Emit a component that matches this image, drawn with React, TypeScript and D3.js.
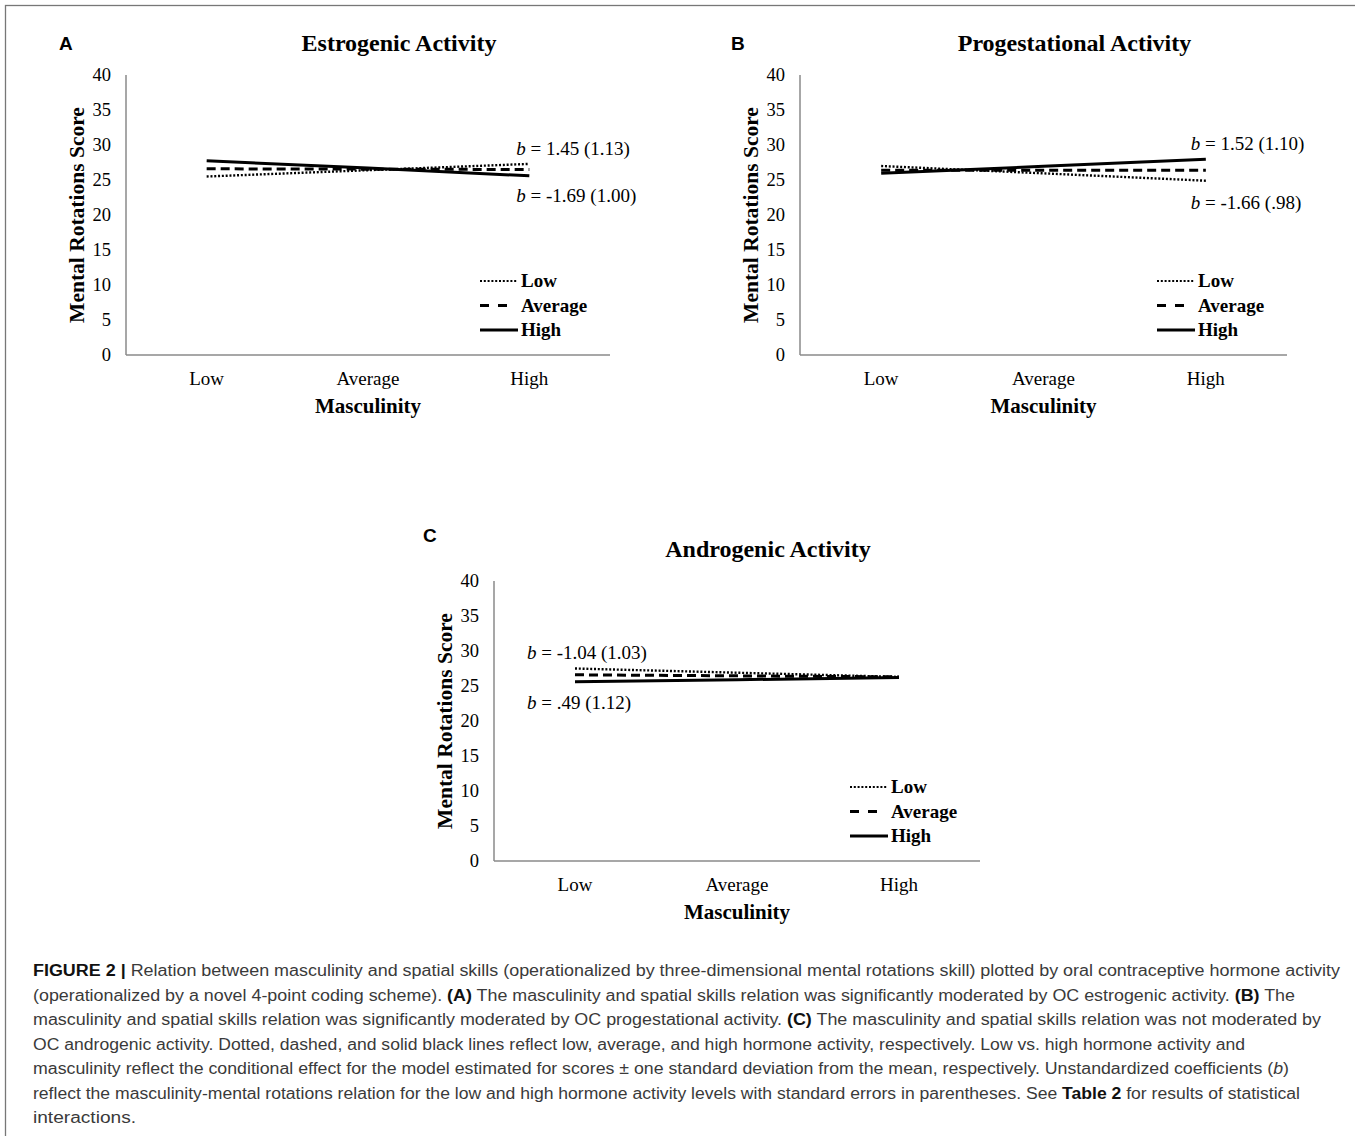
import * as d3 from "d3";

const categories = ["Low", "Average", "High"];
const levelNames = ["Low", "Average", "High"];
const yTicks = [0, 5, 10, 15, 20, 25, 30, 35, 40];

// Mental rotations score at Low / Average / High masculinity
const estrogenicLow = [25.5, 26.4, 27.3];
const estrogenicAverage = [26.6, 26.55, 26.5];
const estrogenicHigh = [27.75, 26.7, 25.6];

const progestationalLow = [27.0, 25.95, 24.9];
const progestationalAverage = [26.4, 26.4, 26.4];
const progestationalHigh = [25.95, 26.95, 27.95];

const androgenicLow = [27.5, 26.9, 26.3];
const androgenicAverage = [26.6, 26.45, 26.3];
const androgenicHigh = [25.6, 25.9, 26.2];

const estrogenicNotes = [
  { category: "High", score: 29.5, text: "= 1.45 (1.13)" },
  { category: "High", score: 22.8, text: "= -1.69 (1.00)" },
];
const progestationalNotes = [
  { category: "High", score: 30.2, text: "= 1.52 (1.10)" },
  { category: "High", score: 21.8, text: "= -1.66 (.98)" },
];
const androgenicNotes = [
  { category: "Low", score: 29.8, text: "= -1.04 (1.03)" },
  { category: "Low", score: 22.7, text: "= .49 (1.12)" },
];

const captionLines: [string, string][][] = [
  [["FIGURE 2 |", "b"], [" Relation between masculinity and spatial skills (operationalized by three-dimensional mental rotations skill) plotted by oral contraceptive hormone activity", "n"]],
  [["(operationalized by a novel 4-point coding scheme). ", "n"], ["(A)", "b"], [" The masculinity and spatial skills relation was significantly moderated by OC estrogenic activity. ", "n"], ["(B)", "b"], [" The", "n"]],
  [["masculinity and spatial skills relation was significantly moderated by OC progestational activity. ", "n"], ["(C)", "b"], [" The masculinity and spatial skills relation was not moderated by", "n"]],
  [["OC androgenic activity. Dotted, dashed, and solid black lines reflect low, average, and high hormone activity, respectively. Low vs. high hormone activity and", "n"]],
  [["masculinity reflect the conditional effect for the model estimated for scores \u00b1 one standard deviation from the mean, respectively. Unstandardized coefficients (", "n"], ["b", "i"], [")", "n"]],
  [["reflect the masculinity-mental rotations relation for the low and high hormone activity levels with standard errors in parentheses. See ", "n"], ["Table 2", "b"], [" for results of statistical", "n"]],
  [["interactions.", "n"]],
];
const captionWidths = [1307, 1262, 1288, 1212, 1256, 1267, 103];

const serif = "'Liberation Serif', 'Times New Roman', serif";
const sans = "'Liberation Sans', Arial, sans-serif";

const lineStyles: Record<string, { dash: string; width: number }> = {
  Low: { dash: "2 1.8", width: 2.4 },
  Average: { dash: "9 5", width: 3 },
  High: { dash: "", width: 3 },
};

interface PanelProps {
  letter: string;
  title: string;
  x0: number;
  x1: number;
  yTop: number;
  yBottom: number;
  letterX: number;
  letterY: number;
  series: number[][];
  notes: { category: string; score: number; text: string }[];
  noteDx: number;
}

function Panel({ letter, title, x0, x1, yTop, yBottom, letterX, letterY, series, notes, noteDx }: PanelProps) {
  const x = d3.scalePoint<string>().domain(categories).range([x0, x1]).padding(0.5);
  const y = d3.scaleLinear().domain([0, 40]).range([yBottom, yTop]);
  const line = d3
    .line<number>()
    .x((_, i) => x(categories[i]) ?? 0)
    .y((d) => y(d));
  const midX = (x0 + x1) / 2;
  const midY = (yTop + yBottom) / 2;
  const legendX = x1 - 130;

  return (
    <g>
      <text x={letterX} y={letterY} fontFamily={sans} fontWeight="bold" fontSize={19}>{letter}</text>
      <text x={midX + 31} y={yTop - 24} textAnchor="middle" fontFamily={serif} fontWeight="bold" fontSize={24}>{title}</text>

      {yTicks.map((tick) => (
        <text key={tick} x={x0 - 15} y={y(tick)} dy="0.34em" textAnchor="end" fontFamily={serif} fontSize={18.5}>{tick}</text>
      ))}
      <line x1={x0} x2={x0} y1={yTop} y2={yBottom} stroke="#8a8a8a" strokeWidth={1.5} />
      <line x1={x0} x2={x1} y1={yBottom} y2={yBottom} stroke="#8a8a8a" strokeWidth={1.5} />

      {categories.map((c) => (
        <text key={c} x={x(c)} y={yBottom + 30} textAnchor="middle" fontFamily={serif} fontSize={19}>{c}</text>
      ))}
      <text x={midX} y={yBottom + 58} textAnchor="middle" fontFamily={serif} fontWeight="bold" fontSize={21}>Masculinity</text>
      <text transform={`translate(${x0 - 50}, ${midY}) rotate(-90)`} textAnchor="middle" dy="0.35em" fontFamily={serif} fontWeight="bold" fontSize={21.5}>Mental Rotations Score</text>

      {series.map((values, i) => (
        <path
          key={levelNames[i]}
          d={line(values) ?? ""}
          fill="none"
          stroke="#000"
          strokeWidth={lineStyles[levelNames[i]].width}
          strokeDasharray={lineStyles[levelNames[i]].dash}
        />
      ))}

      {notes.map((n) => (
        <text key={n.text} x={(x(n.category) ?? 0) + noteDx} y={y(n.score)} dy="0.34em" fontFamily={serif} fontSize={19}>
          <tspan fontStyle="italic">b</tspan> {n.text}
        </text>
      ))}

      {levelNames.map((name, i) => {
        const ly = yBottom - 74 + i * 24.5;
        return (
          <g key={name}>
            <line
              x1={legendX}
              x2={name === "Average" ? legendX + 28 : legendX + 38}
              y1={ly}
              y2={ly}
              stroke="#000"
              strokeWidth={name === "Low" ? 2 : lineStyles[name].width}
              strokeDasharray={name === "Average" ? "9 9" : lineStyles[name].dash}
            />
            <text x={legendX + 41} y={ly} dy="0.34em" fontFamily={serif} fontWeight="bold" fontSize={19}>{name}</text>
          </g>
        );
      })}
    </g>
  );
}

export default function App() {
  return (
    <div style={{ position: "absolute", left: 0, top: 0, background: "#fff" }}>
      <svg width={1355} height={1136} viewBox="0 0 1355 1136" style={{ display: "block" }}>
        <rect x={0} y={0} width={1355} height={1136} fill="#fff" />
        <rect x={5.5} y={5.5} width={1400} height={1200} fill="none" stroke="#777" strokeWidth={1.3} />

        <Panel
          letter="A"
          title="Estrogenic Activity"
          x0={126}
          x1={610}
          yTop={75}
          yBottom={355}
          letterX={59}
          letterY={50}
          series={[estrogenicLow, estrogenicAverage, estrogenicHigh]}
          notes={estrogenicNotes}
          noteDx={-13}
        />
        <Panel
          letter="B"
          title="Progestational Activity"
          x0={800}
          x1={1287}
          yTop={75}
          yBottom={355}
          letterX={731}
          letterY={50}
          series={[progestationalLow, progestationalAverage, progestationalHigh]}
          notes={progestationalNotes}
          noteDx={-15}
        />
        <Panel
          letter="C"
          title="Androgenic Activity"
          x0={494}
          x1={980}
          yTop={581}
          yBottom={861}
          letterX={423}
          letterY={542}
          series={[androgenicLow, androgenicAverage, androgenicHigh]}
          notes={androgenicNotes}
          noteDx={-48}
        />

        {captionLines.map((segments, i) => (
          <text
            key={i}
            x={33}
            y={976 + i * 24.5}
            fontFamily={sans}
            fontSize={16}
            fill="#3a3a3a"
            textLength={captionWidths[i]}
            lengthAdjust="spacingAndGlyphs"
          >
            {segments.map(([t, s], j) => (
              <tspan
                key={j}
                fontWeight={s === "b" ? "bold" : "normal"}
                fontStyle={s === "i" ? "italic" : "normal"}
                fill={s === "b" ? "#111" : "#3a3a3a"}
              >
                {t}
              </tspan>
            ))}
          </text>
        ))}
      </svg>
    </div>
  );
}
